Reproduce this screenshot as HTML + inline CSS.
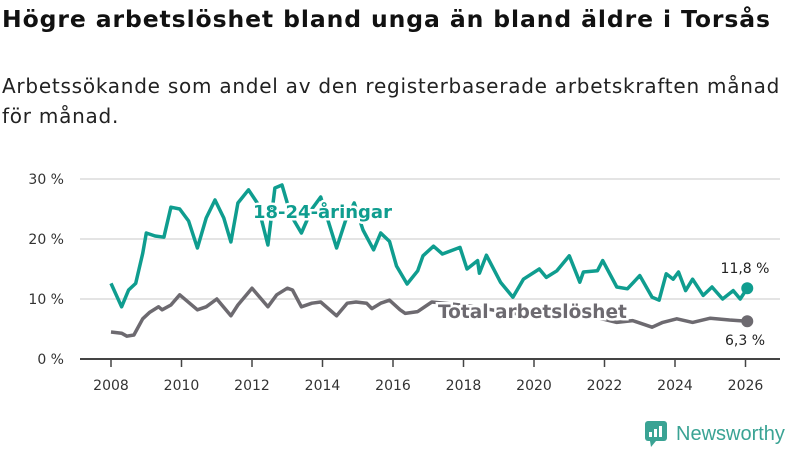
<!DOCTYPE html>
<html><head><meta charset="utf-8"><style>
body{margin:0;background:#fff;font-family:"Liberation Sans","DejaVu Sans",sans-serif;}
#wrap{position:relative;width:800px;height:450px;overflow:hidden;}
h1{position:absolute;left:2px;top:5px;margin:0;font-size:23.5px;font-weight:bold;color:#111;font-family:"DejaVu Sans",sans-serif;letter-spacing:0.9px;white-space:nowrap;}
.sub{position:absolute;left:2px;top:71px;margin:0;font-size:20px;line-height:30px;color:#222;font-family:"DejaVu Sans",sans-serif;width:795px;letter-spacing:0.75px;}
svg{position:absolute;left:0;top:0;}
</style></head><body>
<div id="wrap">
<h1>Högre arbetslöshet bland unga än bland äldre i Torsås</h1>
<p class="sub">Arbetssökande som andel av den registerbaserade arbetskraften månad för månad.</p>
<svg id="chart" width="800" height="450"></svg>
</div>
<script>
const yTicks=[0,10,20,30];
const yTickLabels=["0 %","10 %","20 %","30 %"];
const xTicks=[2008,2010,2012,2014,2016,2018,2020,2022,2024,2026];
const youthYears=[2008.0,2008.3,2008.5,2008.7,2008.9,2009.0,2009.25,2009.5,2009.7,2009.95,2010.2,2010.45,2010.7,2010.95,2011.2,2011.4,2011.6,2011.9,2012.15,2012.45,2012.65,2012.85,2013.1,2013.4,2013.7,2013.95,2014.4,2014.65,2014.9,2015.15,2015.45,2015.65,2015.9,2016.1,2016.4,2016.7,2016.85,2017.15,2017.4,2017.9,2018.1,2018.4,2018.45,2018.65,2019.05,2019.4,2019.7,2020.15,2020.35,2020.65,2021.0,2021.3,2021.4,2021.8,2021.95,2022.35,2022.65,2023.0,2023.35,2023.55,2023.75,2023.95,2024.1,2024.3,2024.5,2024.8,2025.05,2025.35,2025.65,2025.85,2026.05];
const youthValues=[12.6,8.7,11.5,12.6,17.6,21,20.5,20.3,25.3,25,23,18.5,23.5,26.5,23.5,19.5,26,28.2,26,19,28.5,29,24,21,25,27,18.5,23,26,21.5,18.2,21,19.6,15.5,12.5,14.7,17.2,18.8,17.5,18.6,15,16.4,14.3,17.3,12.8,10.3,13.3,15,13.6,14.7,17.2,12.8,14.5,14.7,16.4,12,11.7,13.9,10.3,9.8,14.2,13.3,14.5,11.4,13.3,10.6,12,10,11.4,10,11.8];
const totalYears=[2008.0,2008.3,2008.45,2008.65,2008.9,2009.1,2009.35,2009.45,2009.7,2009.95,2010.45,2010.7,2011.0,2011.4,2011.6,2012.0,2012.45,2012.7,2013.0,2013.15,2013.4,2013.7,2013.95,2014.4,2014.7,2014.95,2015.25,2015.4,2015.65,2015.9,2016.2,2016.35,2016.7,2017.1,2017.6,2018.2,2018.8,2019.4,2020.0,2020.4,2020.9,2021.5,2022.0,2022.35,2022.8,2023.35,2023.65,2024.05,2024.5,2025.0,2025.55,2026.05];
const totalValues=[4.5,4.3,3.8,4,6.7,7.8,8.7,8.2,9.0,10.7,8.2,8.7,10,7.2,9,11.8,8.7,10.7,11.8,11.5,8.7,9.3,9.5,7.2,9.3,9.5,9.3,8.4,9.3,9.8,8.2,7.6,7.9,9.5,9.2,8.8,8.2,7.6,7.4,8.1,7.5,7.0,6.6,6.1,6.4,5.3,6.1,6.7,6.1,6.8,6.5,6.3];

const NS="http://www.w3.org/2000/svg";
const svg=document.getElementById('chart');
const x0=111,pxPerYear=35.25,yBase=359,pxPerPct=6;
function xs(y){return x0+(y-2008)*pxPerYear;}
function ys(v){return yBase-v*pxPerPct;}
function mk(tag,attrs){const e=document.createElementNS(NS,tag);for(const k in attrs)e.setAttribute(k,attrs[k]);svg.appendChild(e);return e;}

yTicks.forEach((t,i)=>{
  if(t>0){const g=mk('line',{x1:80,x2:780,y1:ys(t),y2:ys(t),stroke:'#dcdcdc','stroke-width':1.5});
  
  }
  const l=mk('text',{x:64,y:ys(t)+5,'text-anchor':'end','font-size':14,fill:'#333','font-family':'DejaVu Sans, sans-serif'});
  l.textContent=yTickLabels[i];
  
  
});
const ax=mk('line',{x1:80,x2:780,y1:yBase,y2:yBase,stroke:'#444','stroke-width':2});


xTicks.forEach(t=>{
  const tk=mk('line',{x1:xs(t),x2:xs(t),y1:yBase,y2:yBase+8,stroke:'#444','stroke-width':1.5});
  
  
  const l=mk('text',{x:xs(t),y:390,'text-anchor':'middle','font-size':14,fill:'#333','font-family':'DejaVu Sans, sans-serif'});
  l.textContent=t;
  
  
});
function path(yrs,vals){return yrs.map((y,i)=>(i?'L':'M')+xs(y).toFixed(1)+','+ys(vals[i]).toFixed(1)).join(' ');}
const tl=mk('path',{d:path(totalYears,totalValues),fill:'none',stroke:'#6d6a70','stroke-width':3.5,'stroke-linejoin':'round'});


const yl=mk('path',{d:path(youthYears,youthValues),fill:'none',stroke:'#0f9d8f','stroke-width':3.5,'stroke-linejoin':'round'});


const td=mk('circle',{cx:xs(totalYears[totalYears.length-1]),cy:ys(totalValues[totalValues.length-1]),r:6,fill:'#6d6a70'});


const yd=mk('circle',{cx:xs(youthYears[youthYears.length-1]),cy:ys(youthValues[youthValues.length-1]),r:6,fill:'#0f9d8f'});


function lab(txt,x,y,fill,size,bold,name,anchor){
  const t=mk('text',{x:x,y:y,'font-size':size,fill:fill,'font-weight':bold?'bold':'normal','font-family':'DejaVu Sans, sans-serif',stroke:'#fff','stroke-width':bold?5:0,'paint-order':'stroke','text-anchor':anchor||'start'});
  t.textContent=txt;
  
  
}
lab('18-24-åringar',253,218,'#0f9d8f',18,true,'youth-series-label');
lab('Total arbetslöshet',438,318,'#6d6a70',18.5,true,'total-series-label');
lab('11,8 %',745,273,'#222',14,false,'youth-end-value','middle');
lab('6,3 %',745,345,'#222',14,false,'total-end-value','middle');
</script>
<svg width="800" height="450" style="pointer-events:none">
<rect x="645" y="421" width="22" height="20" rx="3" fill="#3aa394"/>
<polygon points="650,441 656,441 651,447" fill="#3aa394"/>
<rect x="649" y="432" width="3" height="5" fill="#fff"/><rect x="654" y="429" width="3" height="8" fill="#fff"/><rect x="659" y="426" width="3" height="11" fill="#fff"/>
<text x="676" y="440" font-size="20" fill="#3aa394" font-family="Liberation Sans, sans-serif">Newsworthy</text>
</svg>
</body></html>
